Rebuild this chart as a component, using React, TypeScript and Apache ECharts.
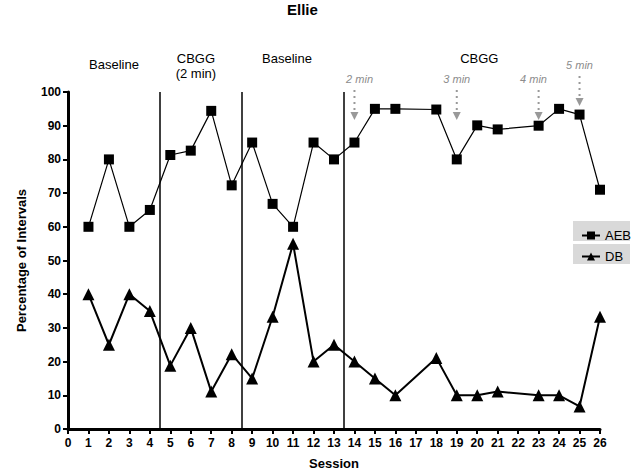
import React, { useEffect, useRef } from "react";
import * as echarts from "echarts";

const sessions = [1, 2, 3, 4, 5, 6, 7, 8, 9, 10, 11, 12, 13, 14, 15, 16, 18, 19, 20, 21, 23, 24, 25, 26];
const aeb = [60, 80, 60, 65, 81.3, 82.6, 94.4, 72.3, 85, 66.8, 60, 85, 80, 85, 95, 95, 94.8, 80, 90.1, 88.9, 90, 95, 93.3, 71];
const db = [40, 25, 40, 35, 18.8, 30, 11.1, 22.2, 15, 33.3, 55, 20, 25, 20, 15, 10, 21.1, 10, 10, 11.1, 10, 10, 6.7, 33.3];
const phaseChanges = [4.5, 8.5, 13.5];
const phaseLabels = ["Baseline", "CBGG\n(2 min)", "Baseline", "CBGG"];
const phaseLabelX = [2.25, 6.25, 10.7, 20.1];
const cueSessions = [14, 19, 23, 25];
const cueLabels = ["2 min", "3 min", "4 min", "5 min"];
const cueLabelX = [14.25, 19, 22.75, 25];

const FONT = "'Liberation Sans', Arial, sans-serif";

export default function App() {
  const ref = useRef<HTMLDivElement>(null);
  useEffect(() => {
    if (!ref.current) return;
    const chart = echarts.init(ref.current, null, { renderer: "svg" });
    const aebData = sessions.map((s, i) => [s, aeb[i]]);
    const dbData = sessions.map((s, i) => [s, db[i]]);
    chart.setOption({
      animation: false,
      backgroundColor: "#fff",
      textStyle: { fontFamily: FONT },
      title: {
        text: "Ellie",
        left: 287,
        top: 2,
        padding: 0,
        textStyle: { fontFamily: FONT, fontWeight: "bold", fontSize: 15, color: "#000" },
      },
      grid: { left: 68, right: 37, top: 92, bottom: 44, containLabel: false },
      legend: {
        orient: "vertical",
        left: 576,
        top: 224,
        itemGap: 8,
        itemWidth: 18,
        itemHeight: 10,
        textStyle: { fontFamily: FONT, fontSize: 13, color: "#000" },
        data: ["AEB", "DB"],
      },
      xAxis: {
        type: "value",
        min: 0,
        max: 26,
        interval: 1,
        name: "Session",
        nameLocation: "middle",
        nameGap: 28,
        nameTextStyle: { fontFamily: FONT, fontWeight: "bold", fontSize: 13, color: "#000" },
        axisLine: { show: true, onZero: false, lineStyle: { color: "#000", width: 3 } },
        axisTick: { show: true, length: 5, lineStyle: { color: "#000", width: 2 } },
        axisLabel: { fontFamily: FONT, fontWeight: "bold", fontSize: 12, color: "#000", margin: 8 },
        splitLine: { show: false },
      },
      yAxis: {
        type: "value",
        min: 0,
        max: 100,
        interval: 10,
        name: "Percentage of Intervals",
        nameLocation: "middle",
        nameGap: 40,
        nameTextStyle: { fontFamily: FONT, fontWeight: "bold", fontSize: 13, color: "#000" },
        axisLine: { show: true, lineStyle: { color: "#000", width: 3 } },
        axisTick: { show: true, length: 5, lineStyle: { color: "#000", width: 2 } },
        axisLabel: { fontFamily: FONT, fontWeight: "bold", fontSize: 12, color: "#000", margin: 7 },
        splitLine: { show: false },
      },
      series: [
        {
          name: "AEB",
          type: "line",
          data: aebData,
          symbol: "rect",
          symbolSize: 10,
          itemStyle: { color: "#000" },
          lineStyle: { color: "#000", width: 1.2 },
          z: 3,
          markLine: {
            silent: true,
            symbol: "none",
            label: { show: false },
            lineStyle: { color: "#000", width: 1.5, type: "solid" },
            data: phaseChanges.map((x) => ({ xAxis: x })),
          },
        },
        {
          name: "DB",
          type: "line",
          data: dbData,
          symbol: "triangle",
          symbolSize: 12,
          itemStyle: { color: "#000" },
          lineStyle: { color: "#000", width: 2 },
          z: 3,
        },
      ],
    });

    const px = (x: number, y: number) => chart.convertToPixel({ gridIndex: 0 }, [x, y]) as number[];
    const top = 92;
    const graphics: any[] = [];
    graphics.push({ type: "rect", z: -10, shape: { x: 573, y: 221, width: 57, height: 20 }, style: { fill: "#d9d9d9" } });
    graphics.push({ type: "rect", z: -10, shape: { x: 573, y: 244, width: 57, height: 20 }, style: { fill: "#d9d9d9" } });
    const phaseY = [top - 28, top - 26, top - 34, top - 34];
    phaseLabels.forEach((t, i) => {
      const [x] = px(phaseLabelX[i], 0);
      graphics.push({
        type: "text",
        x,
        y: phaseY[i],
        style: {
          text: t,
          font: `13px ${FONT}`,
          fill: "#000",
          align: "center",
          verticalAlign: "middle",
          textAlign: "center",
          textVerticalAlign: "middle",
          lineHeight: 15,
        },
      });
    });
    cueSessions.forEach((s, i) => {
      const [x] = px(s, 0);
      const [lx] = px(cueLabelX[i], 0);
      const shift = i === 3 ? -14 : 0;
      const y0 = top - 2 + shift;
      const yTip = top + 28 + shift;
      graphics.push({
        type: "line",
        shape: { x1: x, y1: y0, x2: x, y2: yTip - 7 },
        style: { stroke: "#999", lineWidth: 2, lineDash: [2, 4] },
      });
      graphics.push({
        type: "polygon",
        shape: { points: [[x - 4, yTip - 8], [x + 4, yTip - 8], [x, yTip]] },
        style: { fill: "#999" },
      });
      graphics.push({
        type: "text",
        x: lx,
        y: top - 13 + shift,
        style: {
          text: cueLabels[i],
          font: `italic 11px ${FONT}`,
          fill: "#8c8c8c",
          align: "center",
          verticalAlign: "middle",
          textAlign: "center",
          textVerticalAlign: "middle",
        },
      });
    });
    chart.setOption({ graphic: graphics });
    return () => chart.dispose();
  }, []);
  return <div ref={ref} style={{ position: "fixed", left: 0, top: 0, width: 637, height: 475 }} />;
}
